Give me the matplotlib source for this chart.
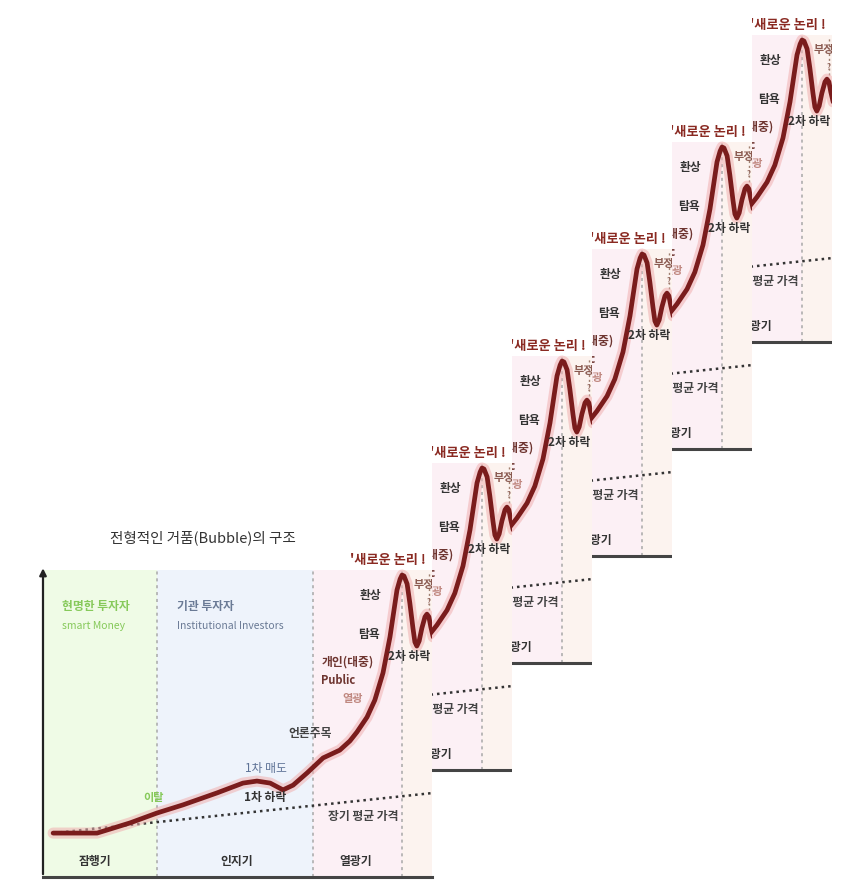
import numpy as np
import matplotlib
matplotlib.use('Agg')
import matplotlib.pyplot as plt

plt.rcParams['font.family'] = ['Noto Sans CJK KR', 'DejaVu Sans']

# DATA
# bubble curve: time (0-100) vs price (0-100)
tempo = [2.6, 13.9, 22.4, 29.3, 36.0, 44.7, 51.4, 55.0, 58.4, 61.7, 64.3,
         67.9, 72.0, 76.3, 78.9, 80.7, 83.3, 85.3, 87.4, 89.2, 91.0, 91.8,
         92.3, 92.8, 93.6, 94.3, 95.1, 95.6, 96.1, 96.7, 97.4, 98.2, 98.7,
         99.2, 99.7, 100.3]
preco = [13.8, 13.8, 16.8, 19.7, 22.1, 25.6, 28.5, 29.1, 28.5, 26.5, 27.9,
         31.5, 35.9, 38.2, 40.9, 43.5, 47.9, 52.9, 60.9, 71.5, 85.3, 88.5,
         89.7, 89.4, 87.1, 81.5, 74.1, 70.0, 68.8, 70.3, 74.1, 77.4, 78.2,
         77.4, 74.4, 71.5]
# long term average price
media_t = [2.6, 100.3]
media_p = [13.8, 25.6]
# phase limits
fases_t = [0, 29.3, 69.4, 92.3, 100]
fases_cor = ['#effbe6', '#eef3fb', '#fcf0f5', '#fcf3ef']
fases_nome = ['잠행기', '인지기', '열광기']

titulo = '전형적인 거품(Bubble)의 구조'

# label, t, p, color, size, weight, ha
rotulos = [
    ('현명한 투자자', 4.9, 80.3, '#86c95a', 8.5, 'bold', 'left'),
    ('smart Money', 4.9, 74.7, '#86c95a', 7.5, 'normal', 'left'),
    ('기관 투자자', 34.4, 80.3, '#6a7a95', 8.5, 'bold', 'left'),
    ('Institutional Investors', 34.4, 74.7, '#6a7a95', 7.5, 'normal', 'left'),
    ('이탈', 28.3, 24.4, '#86c95a', 8, 'bold', 'center'),
    ('1차 매도', 57.3, 32.9, '#5e7296', 8.5, 'normal', 'center'),
    ('1차 하락', 57.1, 24.4, '#333333', 8.5, 'bold', 'center'),
    ('언론주목', 68.6, 43.2, '#444444', 8.5, 'bold', 'center'),
    ('개인(대중)', 78.4, 64.1, '#6e3530', 8.5, 'bold', 'center'),
    ('Public', 75.8, 58.8, '#6e3530', 8, 'bold', 'center'),
    ('열광', 79.7, 53.5, '#c08880', 8, 'bold', 'center'),
    ('탐욕', 83.8, 72.1, '#333333', 8.5, 'bold', 'center'),
    ('환상', 84.3, 83.8, '#333333', 8.5, 'bold', 'center'),
    ("'새로운 논리 !", 78.9, 94.1, '#8a2a22', 9.5, 'bold', 'left'),
    ('부정', 97.9, 86.8, '#8a5a50', 8, 'bold', 'center'),
    ('?', 99.2, 81.5, '#8a5a50', 6, 'normal', 'center'),
    ('2차 하락', 94.1, 65.6, '#333333', 8.5, 'bold', 'center'),
    ('장기 평균 가격', 82.3, 18.8, '#444444', 8.5, 'bold', 'center'),
]
fases_nome_t = [13.4, 49.9, 80.5]

W, H = 850, 882
eixo_p = 0.9     # x axis height
topo_p = 91.2    # top of the coloured bands


def rect(x0, y0, x1, y1):
    return [x0 / W, (H - y1) / H, (x1 - x0) / W, (y1 - y0) / H]


def desenhar(ax, principal):
    ax.set_xlim(0 if principal else 79.43, 100)
    ax.set_ylim(0, 100)
    ax.axis('off')
    ax.set_facecolor('none')
    for i in range(4):
        ax.fill_between([fases_t[i], fases_t[i + 1]], eixo_p, topo_p,
                        color=fases_cor[i], lw=0, zorder=0)
    for x in fases_t[1:4]:
        ax.plot([x, x], [eixo_p, topo_p], color='#a8a8a8', lw=1.1,
                ls=(0, (2, 2.5)), zorder=1)
    ax.plot([99.2, 99.2], [79.5, 90.5], color='#a08070', lw=1.0,
            ls=(0, (1.5, 2)), zorder=1)
    ax.plot(media_t, media_p, color='#333333', lw=1.8, ls=(0, (1, 1.6)),
            zorder=2)
    # curve with glow
    ax.plot(tempo, preco, color='#f0b0b0', lw=8, alpha=0.55, zorder=3,
            solid_capstyle='round', solid_joinstyle='round')
    ax.plot(tempo, preco, color='#7a1c1c', lw=3.4, zorder=4,
            solid_capstyle='round', solid_joinstyle='round')
    for txt, t, p, cor, tam, peso, ha in rotulos:
        ax.text(t, p, txt, color=cor, fontsize=tam, fontweight=peso,
                ha=ha, va='center', zorder=5, clip_on=True)
    for txt, t in zip(fases_nome, fases_nome_t):
        ax.text(t, 5.3, txt, color='#333333', fontsize=8.5, fontweight='bold',
                ha='center', va='center', zorder=5, clip_on=True)
    ax.plot([0, 100], [eixo_p, eixo_p], color='#444444', lw=2.2, zorder=6,
            clip_on=not principal)
    if principal:
        ax.annotate('', xy=(0, 92.5), xytext=(0, eixo_p),
                    arrowprops=dict(arrowstyle='-|>', color='#222222', lw=1.6,
                                    mutation_scale=10),
                    annotation_clip=False, zorder=6)


fig = plt.figure(figsize=(W / 100, H / 100), dpi=100)
fig.patch.set_facecolor('white')

ax0 = fig.add_axes(rect(43, 540, 432, 880))
desenhar(ax0, True)
fig.text(203 / W, 1 - 538 / H, titulo, fontsize=10.5, color='#333333',
         ha='center', va='center')

# repeated strips of the mania phase, staircase
for k in range(1, 6):
    ax = fig.add_axes(rect(352 + 80 * k, 540 - 107 * k,
                           432 + 80 * k, 880 - 107 * k))
    desenhar(ax, False)

fig.savefig('out.png', dpi=100, facecolor='white')
